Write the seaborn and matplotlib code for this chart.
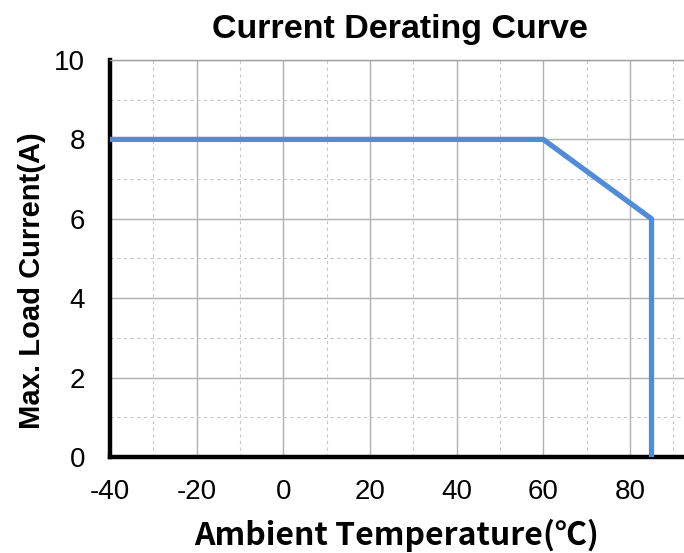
import matplotlib
matplotlib.use("Agg")
import matplotlib.pyplot as plt
import numpy as np
import pandas as pd
import seaborn as sns
from matplotlib.ticker import MultipleLocator

# derating curve points
temperature = [-40, 60, 85, 85]
load_current = [8, 8, 6, 0]
x_ticks = [-40, -20, 0, 20, 40, 60, 80]
y_ticks = [0, 2, 4, 6, 8, 10]

sns.set_style("white")
plt.rcParams['font.family'] = ['Liberation Sans', 'DejaVu Sans']
plt.rcParams['axes.unicode_minus'] = False
# seaborn greys the text, reference is pure black
plt.rcParams['text.color'] = 'black'
plt.rcParams['axes.labelcolor'] = 'black'
plt.rcParams['xtick.color'] = 'black'
plt.rcParams['ytick.color'] = 'black'

data = pd.DataFrame({'temp': temperature, 'current': load_current})

fig = plt.figure(figsize=(6.84, 5.53), dpi=100)
ax = fig.add_axes([0.161, 0.1736, 0.839, 0.7179])

# grid: solid major, dashed minor
ax.xaxis.set_minor_locator(MultipleLocator(10))
ax.yaxis.set_minor_locator(MultipleLocator(1))
ax.grid(which='major', color='#b0b0b0', linestyle='-', linewidth=1.0)
ax.grid(which='minor', color='#c8c8c8', linestyle=(0, (3, 3)), linewidth=0.8)
ax.set_axisbelow(True)

sns.lineplot(data=data, x='temp', y='current', sort=False, estimator=None,
             color='#528cd8', linewidth=3.8, ax=ax, zorder=3)

ax.set_xlim(-40, 92.5)
ax.set_ylim(0, 10)
ax.set_xticks(x_ticks)
ax.set_yticks(y_ticks)
ax.set_xticklabels([str(t) for t in x_ticks])
ax.tick_params(axis='both', which='major', direction='in', length=5, width=2.5,
               color='black', labelcolor='black', labelsize=20)
ax.tick_params(axis='x', pad=16)
ax.tick_params(axis='y', pad=18)
ax.tick_params(which='minor', length=0)

for side in ['left', 'bottom']:
    ax.spines[side].set_color('black')
    ax.spines[side].set_linewidth(3.2)
ax.spines['top'].set_color('#a0a0a0')
ax.spines['top'].set_linewidth(1.0)
ax.spines['right'].set_visible(False)

ax.set_xlabel('Ambient Temperature(℃)', fontsize=23, fontweight='bold', labelpad=10,
              family=['Noto Sans CJK SC', 'DejaVu Sans'])
ax.set_ylabel('Max. Load Current(A)', fontsize=21, fontweight='bold', labelpad=6,
              y=0.445)
ax.set_title('Current Derating Curve', fontsize=24.5, fontweight='bold', pad=16,
             x=0.505)

fig.savefig('out.png', dpi=100)
